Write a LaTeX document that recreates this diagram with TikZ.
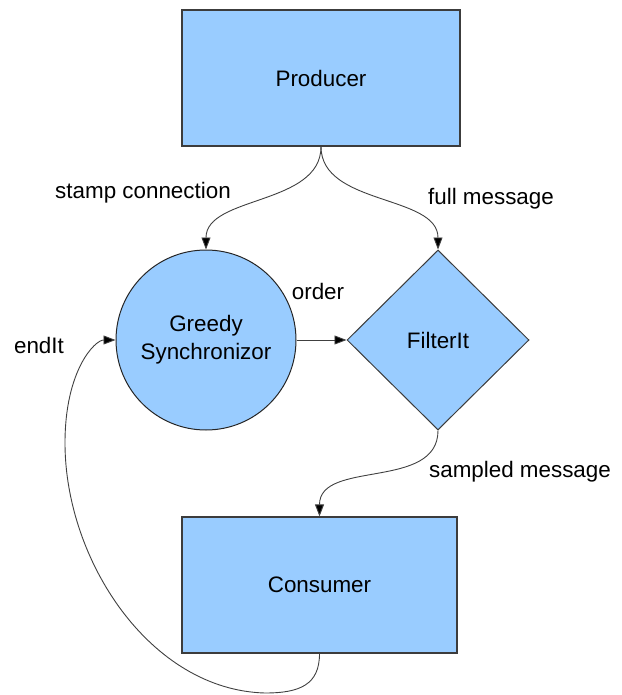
\documentclass[tikz,border=0pt]{standalone}
\usepackage{fontspec}
\setmainfont{Liberation Sans}
\usetikzlibrary{shapes.geometric,arrows.meta}
\definecolor{boxfill}{HTML}{99CCFF}
\definecolor{boxline}{HTML}{3C3C3C}
\begin{document}
\begin{tikzpicture}[x=1pt,y=-1pt,
  every node/.style={font=\fontsize{22.4}{28}\selectfont},
  blockbox/.style={draw=boxline,fill=boxfill,line width=1.2pt,rectangle,inner sep=0pt},
  syncnode/.style={draw=black!85,fill=boxfill,line width=1pt,circle,inner sep=0pt,minimum size=180pt,align=center},
  filternode/.style={draw=boxline,fill=boxfill,line width=1pt,diamond,inner sep=0pt,minimum width=182pt,minimum height=180pt},
  conn/.style={draw=black!75,line width=0.9pt,-{Triangle[length=12pt,width=9pt,fill=black]}},
  lbl/.style={inner sep=0pt}]
\useasboundingbox (0,0) rectangle (621,695);
\node[blockbox,minimum width=278pt,minimum height=136pt] (producer) at (321,78) {Producer};
\node[syncnode] (sync) at (206,340) {Greedy\\Synchronizor};
\node[filternode] (filter) at (438,340) {FilterIt};
\node[blockbox,minimum width=275pt,minimum height=136pt] (consumer) at (319.5,585) {Consumer};
\coordinate (b1) at (265,693);
\coordinate (b2) at (65,443);
\draw[conn] (producer.south) .. controls +(0,59) and +(0,-54) .. (sync.north);
\draw[conn] (producer.south) .. controls +(0,59) and +(0,-55) .. (filter.north);
\draw[conn] (sync.east) -- (filter.west);
\draw[conn] (filter.south) .. controls +(0,60) and +(0,-57) .. (consumer.north);
\draw[conn] (consumer.south) .. controls +(0,31) and +(35,0) .. (b1)
  .. controls (150,690) and (65,560) .. (b2)
  .. controls (65,370) and (95,340) .. (sync.west);
\node[lbl] (l1) at (143,193) {stamp connection};
\node[lbl] (l2) at (491,199) {full message};
\node[lbl] (l3) at (318,291) {order};
\node[lbl] (l4) at (39,345) {endIt};
\node[lbl] (l5) at (520,472) {sampled message};
\end{tikzpicture}
\end{document}
